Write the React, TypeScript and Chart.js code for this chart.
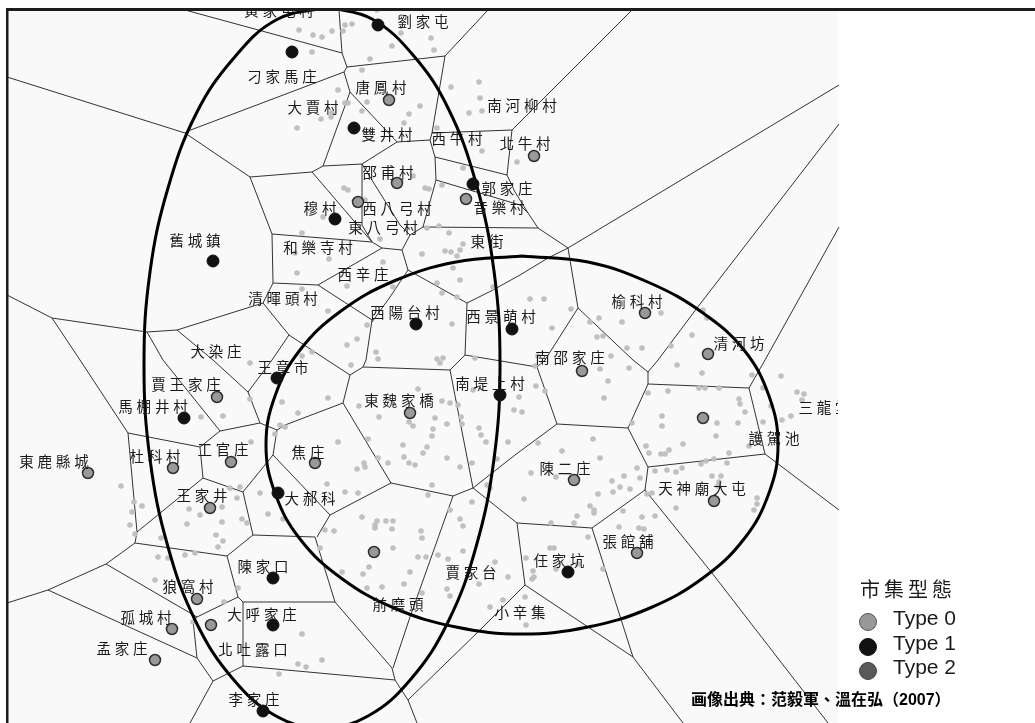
import React, { useEffect, useRef } from "react";
import { Chart, registerables } from "chart.js";

Chart.register(...registerables);

type P = [number, number];

const voronoiEdges: P[][] = [
  [[185, 10], [262, 31], [342, 53]],
  [[339, 10], [342, 53], [347, 67], [445, 56], [488, 10]],
  [[347, 67], [344, 72], [350, 92], [397, 142], [430, 140], [435, 157], [436, 180], [423, 227], [410, 235], [402, 250], [382, 248], [372, 242], [362, 225], [362, 164]],
  [[344, 72], [188, 131], [185, 133], [7, 77]],
  [[185, 133], [250, 177], [312, 172], [323, 166], [350, 92]],
  [[323, 166], [362, 164], [397, 142]],
  [[362, 164], [370, 177], [400, 225], [410, 235]],
  [[312, 172], [372, 242]],
  [[250, 177], [272, 234], [273, 283], [318, 285], [372, 320], [366, 360], [363, 367]],
  [[272, 234], [372, 242]],
  [[382, 248], [318, 285]],
  [[273, 283], [263, 303], [177, 330], [147, 332], [52, 318], [7, 295]],
  [[263, 303], [289, 335], [327, 360], [350, 375]],
  [[289, 335], [272, 360], [248, 392]],
  [[177, 330], [213, 360], [248, 392], [260, 423], [277, 430], [273, 455], [243, 492], [253, 535], [315, 537], [335, 602], [392, 668], [395, 680], [408, 700], [417, 723]],
  [[147, 332], [163, 360], [220, 431], [260, 423]],
  [[52, 318], [80, 360], [128, 433], [200, 447], [220, 431]],
  [[200, 447], [203, 478], [243, 492]],
  [[128, 433], [137, 532], [135, 543], [227, 556], [253, 535]],
  [[137, 532], [203, 478]],
  [[135, 543], [106, 564], [48, 590], [7, 603]],
  [[106, 564], [197, 617], [238, 597], [227, 556]],
  [[48, 590], [197, 658], [213, 681], [243, 666], [243, 602], [335, 602]],
  [[238, 597], [243, 602]],
  [[197, 617], [193, 620], [197, 658]],
  [[243, 666], [395, 680]],
  [[213, 681], [190, 723]],
  [[273, 455], [330, 515], [317, 537]],
  [[330, 515], [391, 483], [453, 496], [473, 488]],
  [[391, 483], [343, 403], [285, 425], [277, 430]],
  [[343, 403], [350, 375], [363, 367], [450, 370], [473, 488]],
  [[453, 496], [410, 617], [393, 668]],
  [[473, 488], [517, 523], [525, 585], [633, 657], [683, 723]],
  [[517, 523], [592, 528], [633, 657]],
  [[592, 528], [645, 490], [648, 467], [628, 428], [557, 424], [537, 367]],
  [[557, 424], [515, 455], [473, 488]],
  [[408, 700], [480, 630], [525, 585]],
  [[645, 490], [712, 573], [828, 723]],
  [[648, 467], [765, 454], [749, 388], [648, 384], [628, 428]],
  [[765, 454], [839, 510]],
  [[749, 388], [765, 360], [839, 227]],
  [[648, 384], [648, 372], [658, 360], [697, 308], [839, 124]],
  [[648, 372], [633, 360], [578, 308], [568, 248], [839, 85]],
  [[578, 308], [545, 360], [537, 367]],
  [[568, 248], [538, 228], [528, 213], [515, 192], [507, 175], [512, 130], [520, 122], [632, 10]],
  [[512, 130], [432, 133], [445, 56]],
  [[432, 133], [430, 140]],
  [[435, 157], [507, 175]],
  [[436, 180], [520, 205], [528, 213]],
  [[423, 227], [538, 228]],
  [[402, 250], [408, 270], [390, 297], [372, 322]],
  [[408, 270], [467, 303], [465, 355], [450, 370]],
  [[465, 355], [537, 367]],
  [[467, 303], [493, 290], [520, 275], [548, 258], [568, 248]],
];

const tallEllipse: P[] = [
  [328, 7], [372, 19], [413, 55], [448, 108], [476, 183], [494, 271], [500, 365], [494, 459], [476, 547], [448, 622], [411, 679], [368, 716], [322, 728], [276, 716], [233, 679], [196, 622], [168, 547], [150, 459], [144, 365], [150, 272], [168, 188], [196, 114], [233, 59], [276, 20], [328, 7],
];

const wideEllipse: P[] = [
  [522, 256], [588, 262], [650, 283], [703, 313], [744, 350], [769, 396], [778, 445], [769, 493], [744, 539], [703, 578], [650, 608], [588, 627], [522, 634], [456, 627], [394, 608], [341, 578], [300, 539], [275, 493], [266, 445], [275, 396], [300, 350], [341, 311], [394, 281], [456, 262], [522, 256],
];

const type1Markets: P[] = [
  [292, 52], [378, 25], [354, 128], [335, 219], [213, 261], [473, 184], [416, 324], [512, 329], [277, 378], [184, 418], [278, 493], [273, 578], [273, 625], [263, 711], [500, 395], [568, 572],
];

const type0Markets: P[] = [
  [389, 100], [397, 183], [358, 202], [466, 199], [534, 156], [645, 313], [708, 354], [582, 371], [217, 397], [173, 468], [231, 462], [88, 473], [315, 463], [410, 413], [210, 508], [374, 552], [197, 599], [211, 625], [172, 629], [155, 660], [703, 418], [574, 480], [714, 501], [637, 553],
];

const villages: P[] = [
  [299, 30], [313, 35], [322, 37], [332, 31], [343, 31], [345, 25], [352, 24], [377, 10], [401, 33], [431, 38], [392, 46], [434, 50], [312, 52], [370, 59], [362, 70], [338, 90], [367, 102], [348, 103], [345, 103], [362, 111], [420, 106], [409, 114], [404, 123], [332, 113], [331, 117], [321, 119], [297, 128], [451, 87], [479, 82], [480, 98], [482, 111], [469, 113], [437, 128], [482, 151], [517, 162], [463, 168], [413, 176], [425, 188], [429, 189], [442, 185], [344, 188], [348, 190], [365, 200], [323, 217], [302, 233], [380, 239], [427, 228], [439, 226], [449, 233], [463, 244], [460, 250], [457, 256], [445, 251], [451, 252], [422, 254], [453, 268], [460, 280], [295, 253], [329, 259], [383, 262], [297, 273], [347, 286], [302, 289], [393, 287], [437, 283], [442, 293], [457, 297], [493, 287], [328, 311], [367, 325], [452, 324], [347, 345], [357, 339], [376, 352], [378, 359], [302, 356], [312, 352], [443, 358], [437, 359], [475, 358],
  [530, 299], [544, 299], [571, 309], [552, 328], [590, 322], [599, 318], [622, 322], [661, 313], [597, 337], [603, 336], [627, 348], [642, 348], [671, 346], [692, 335], [707, 318], [703, 310], [611, 356], [538, 356],
  [250, 363], [351, 365], [440, 363], [282, 402], [250, 399], [223, 416], [201, 417], [280, 425], [285, 427], [275, 434], [298, 413], [328, 398], [418, 389], [473, 390], [359, 406], [379, 417], [409, 422], [413, 426], [435, 418], [447, 424], [433, 429], [432, 436], [442, 401], [450, 403], [458, 405], [461, 417], [462, 424], [479, 428], [481, 435], [486, 442], [508, 442], [514, 410], [368, 439], [338, 442], [251, 442], [403, 445], [427, 447], [423, 453], [404, 457], [447, 458], [409, 463], [415, 465], [378, 458], [388, 463], [364, 463], [365, 467], [357, 469], [460, 467], [472, 463], [497, 459], [327, 484], [345, 492], [358, 493], [432, 485], [428, 495], [487, 485], [490, 488], [472, 502], [260, 493], [240, 487], [230, 488], [237, 498], [121, 486], [134, 502], [142, 506], [130, 525], [135, 534], [132, 512], [189, 509], [200, 515], [222, 507], [187, 524], [222, 522], [242, 519], [247, 523], [268, 514], [283, 519], [216, 535], [223, 541], [218, 547], [161, 538], [158, 557], [168, 558], [185, 555], [195, 553], [155, 580], [362, 517], [377, 521], [386, 521], [393, 521], [375, 525], [375, 528], [392, 529], [334, 531], [325, 530], [421, 531], [422, 538], [450, 510], [460, 519], [463, 526], [320, 548], [393, 548], [418, 557], [426, 557], [438, 555], [448, 559], [463, 551], [495, 562], [369, 567], [363, 574], [410, 572], [342, 572], [404, 584], [367, 588], [382, 587], [447, 589], [450, 596], [422, 593], [479, 584], [508, 577], [503, 600], [490, 607], [238, 588], [224, 602], [193, 622], [302, 634], [298, 664], [306, 667], [322, 660], [279, 674],
  [535, 366], [536, 386], [545, 391], [519, 397], [522, 412], [600, 369], [629, 368], [608, 381], [604, 398], [677, 365], [702, 373], [752, 375], [781, 376], [648, 393], [668, 391], [699, 388], [705, 388], [719, 388], [739, 399], [740, 404], [745, 412], [738, 423], [717, 423], [763, 388], [771, 406], [763, 422], [782, 420], [791, 416], [797, 392], [804, 394], [802, 400], [662, 416], [662, 426], [632, 423], [716, 436], [683, 444], [646, 446], [649, 453], [661, 454], [665, 454], [669, 450], [749, 446], [729, 453], [727, 463], [714, 459], [706, 461], [701, 464], [655, 471], [667, 470], [676, 472], [682, 468], [637, 468], [640, 478], [624, 476], [612, 481], [620, 487], [613, 492], [630, 489], [598, 494], [593, 439], [600, 458], [562, 451], [538, 443], [531, 473], [556, 477], [524, 499], [590, 506], [594, 510], [594, 513], [577, 516], [574, 523], [551, 523], [647, 494], [652, 493], [712, 476], [721, 476], [719, 482], [718, 486], [676, 508], [757, 498], [757, 504], [754, 510], [623, 511], [642, 517], [655, 516], [619, 527], [639, 528], [644, 529], [588, 537], [550, 548], [554, 548], [526, 558], [556, 569], [578, 564], [603, 569], [533, 571], [534, 577], [532, 579], [525, 597], [526, 625],
];

const placeNames: [string, number, number][] = [
  ["黃家屯村", 279, 10], ["劉家屯", 423, 21], ["刁家馬庄", 282, 76], ["唐鳳村", 381, 87], ["大賈村", 313, 107], ["南河柳村", 522, 105], ["雙井村", 387, 134], ["西牛村", 457, 138], ["北牛村", 525, 143], ["邵甫村", 388, 172], ["郭家庄", 507, 188], ["音樂村", 499, 207], ["穆村", 320, 208], ["西八弓村", 397, 208], ["東八弓村", 383, 227], ["舊城鎮", 195, 240], ["和樂寺村", 318, 247], ["東街", 487, 241], ["西辛庄", 363, 274], ["清暉頭村", 283, 298], ["西陽台村", 405, 312], ["西景萌村", 501, 316], ["榆科村", 637, 301], ["清河坊", 739, 343], ["南邵家庄", 570, 357], ["大染庄", 216, 351], ["王章市", 283, 367], ["賈王家庄", 186, 384], ["馬棚井村", 153, 406], ["南堤上村", 490, 383], ["東魏家橋", 399, 400], ["三龍堂", 824, 407], ["杜科村", 155, 456], ["工官庄", 223, 449], ["東鹿縣城", 54, 461], ["焦庄", 308, 452], ["王家井", 202, 495], ["大郝科", 310, 498], ["陳家口", 263, 566], ["狼窩村", 188, 586], ["大呼家庄", 262, 614], ["孤城村", 146, 617], ["孟家庄", 122, 648], ["北吐露口", 253, 649], ["李家庄", 254, 699], ["賈家台", 471, 572], ["前磨頭", 398, 604], ["小辛集", 520, 612], ["陳二庄", 565, 468], ["天神廟大屯", 702, 488], ["護駕池", 774, 438], ["張館舖", 628, 541], ["任家坑", 559, 560],
];

const legendTitle = "市集型態";
const legendLabels = ["Type 0", "Type 1", "Type 2"];
const legendMarkers: P[] = [[868, 622], [868, 647], [868, 671]];
const creditText = "画像出典：范毅軍、溫在弘（2007）";

const toXY = (pts: P[]) => pts.map(([x, y]) => ({ x, y }));

const mapFurniture = {
  id: "mapFurniture",
  beforeDatasetsDraw(chart: any) {
    const { ctx, scales } = chart;
    const px = (v: number) => scales.x.getPixelForValue(v);
    const py = (v: number) => scales.y.getPixelForValue(v);
    ctx.save();
    ctx.fillStyle = "#ffffff";
    ctx.fillRect(0, 0, px(1035), py(723));
    ctx.fillStyle = "#f9f9f9";
    ctx.fillRect(px(7), py(9), px(838) - px(7), py(723) - py(9));
    ctx.restore();
  },
  afterDatasetsDraw(chart: any) {
    const { ctx, scales } = chart;
    const px = (v: number) => scales.x.getPixelForValue(v);
    const py = (v: number) => scales.y.getPixelForValue(v);
    ctx.save();
    ctx.beginPath();
    ctx.rect(px(7), py(9), px(838) - px(7), py(723) - py(9));
    ctx.clip();
    ctx.font = '14.5px "Noto Sans CJK TC"';
    ctx.fillStyle = "#1a1a1a";
    ctx.textAlign = "center";
    ctx.textBaseline = "middle";
    ctx.letterSpacing = "3.8px";
    placeNames.forEach(([name, x, y]) => ctx.fillText(name, px(x) + 1.9, py(y)));
    ctx.restore();

    ctx.save();
    ctx.fillStyle = "#ffffff";
    ctx.fillRect(0, 0, px(1035), py(8));
    ctx.fillStyle = "#1c1c1c";
    ctx.fillRect(px(7), py(8), px(1035) - px(7), 3);
    ctx.fillRect(px(6), py(8), 2.5, py(723) - py(8));

    ctx.textBaseline = "middle";
    ctx.textAlign = "left";
    ctx.fillStyle = "#1a1a1a";
    ctx.font = '20px "Noto Sans CJK TC", serif';
    ctx.letterSpacing = "4px";
    ctx.fillText(legendTitle, px(860), py(589));
    ctx.letterSpacing = "0px";
    ctx.font = '21px "Liberation Sans"';
    legendLabels.forEach((label, i) => {
      ctx.fillText(label, px(893), py(legendMarkers[i][1] - 3));
    });
    ctx.fillStyle = "#000000";
    ctx.font = 'bold 16px "Liberation Sans", "Noto Sans CJK TC"';
    ctx.fillText(creditText, px(691), py(701));
    ctx.restore();
  },
};

export default function App() {
  const canvasRef = useRef<HTMLCanvasElement>(null);
  useEffect(() => {
    const canvas = canvasRef.current;
    if (!canvas) return;
    const edgeSets = voronoiEdges.map((edge) => ({
      type: "line" as const,
      data: toXY(edge),
      showLine: true,
      borderColor: "#333333",
      borderWidth: 1,
      pointRadius: 0,
      tension: 0,
      order: 5,
      parsing: false,
    }));
    const chart = new Chart(canvas, {
      type: "scatter",
      data: {
        datasets: [
          {
            label: "Type 1",
            data: toXY(type1Markets),
            backgroundColor: "#111111",
            borderColor: "#111111",
            borderWidth: 1,
            pointRadius: 6,
            order: 1,
          },
          {
            label: "Type 0",
            data: toXY(type0Markets),
            backgroundColor: "#999999",
            borderColor: "#2e2e2e",
            borderWidth: 1.5,
            pointRadius: 5.5,
            order: 1,
          },
          {
            label: "Legend",
            data: toXY(legendMarkers),
            backgroundColor: ["#999999", "#111111", "#5a5a5a"],
            borderColor: ["#555555", "#111111", "#444444"],
            borderWidth: 1,
            pointRadius: 8.5,
            order: 1,
          },
          {
            label: "Tall ellipse",
            data: toXY(tallEllipse),
            showLine: true,
            borderColor: "#000000",
            borderWidth: 3,
            pointRadius: 0,
            tension: 0.4,
            order: 2,
          },
          {
            label: "Wide ellipse",
            data: toXY(wideEllipse),
            showLine: true,
            borderColor: "#000000",
            borderWidth: 3,
            pointRadius: 0,
            tension: 0.4,
            order: 2,
          },
          {
            label: "Villages",
            data: toXY(villages),
            backgroundColor: "#c0c0c0",
            borderColor: "#c0c0c0",
            borderWidth: 0,
            pointRadius: 2.8,
            order: 3,
          },
          ...edgeSets,
        ] as any,
      },
      options: {
        animation: false,
        responsive: false,
        devicePixelRatio: 1,
        layout: { padding: 0, autoPadding: false },
        plugins: { legend: { display: false }, tooltip: { enabled: false }, title: { display: false } },
        scales: {
          x: { type: "linear", min: 0, max: 1035, display: false },
          y: { type: "linear", min: 0, max: 723, reverse: true, display: false },
        },
      },
      plugins: [mapFurniture],
    });
    return () => chart.destroy();
  }, []);
  return (
    <div style={{ position: "fixed", left: 0, top: 0, width: 1035, height: 723, background: "#fff" }}>
      <canvas ref={canvasRef} width={1035} height={723} style={{ display: "block", width: 1035, height: 723 }} />
    </div>
  );
}
